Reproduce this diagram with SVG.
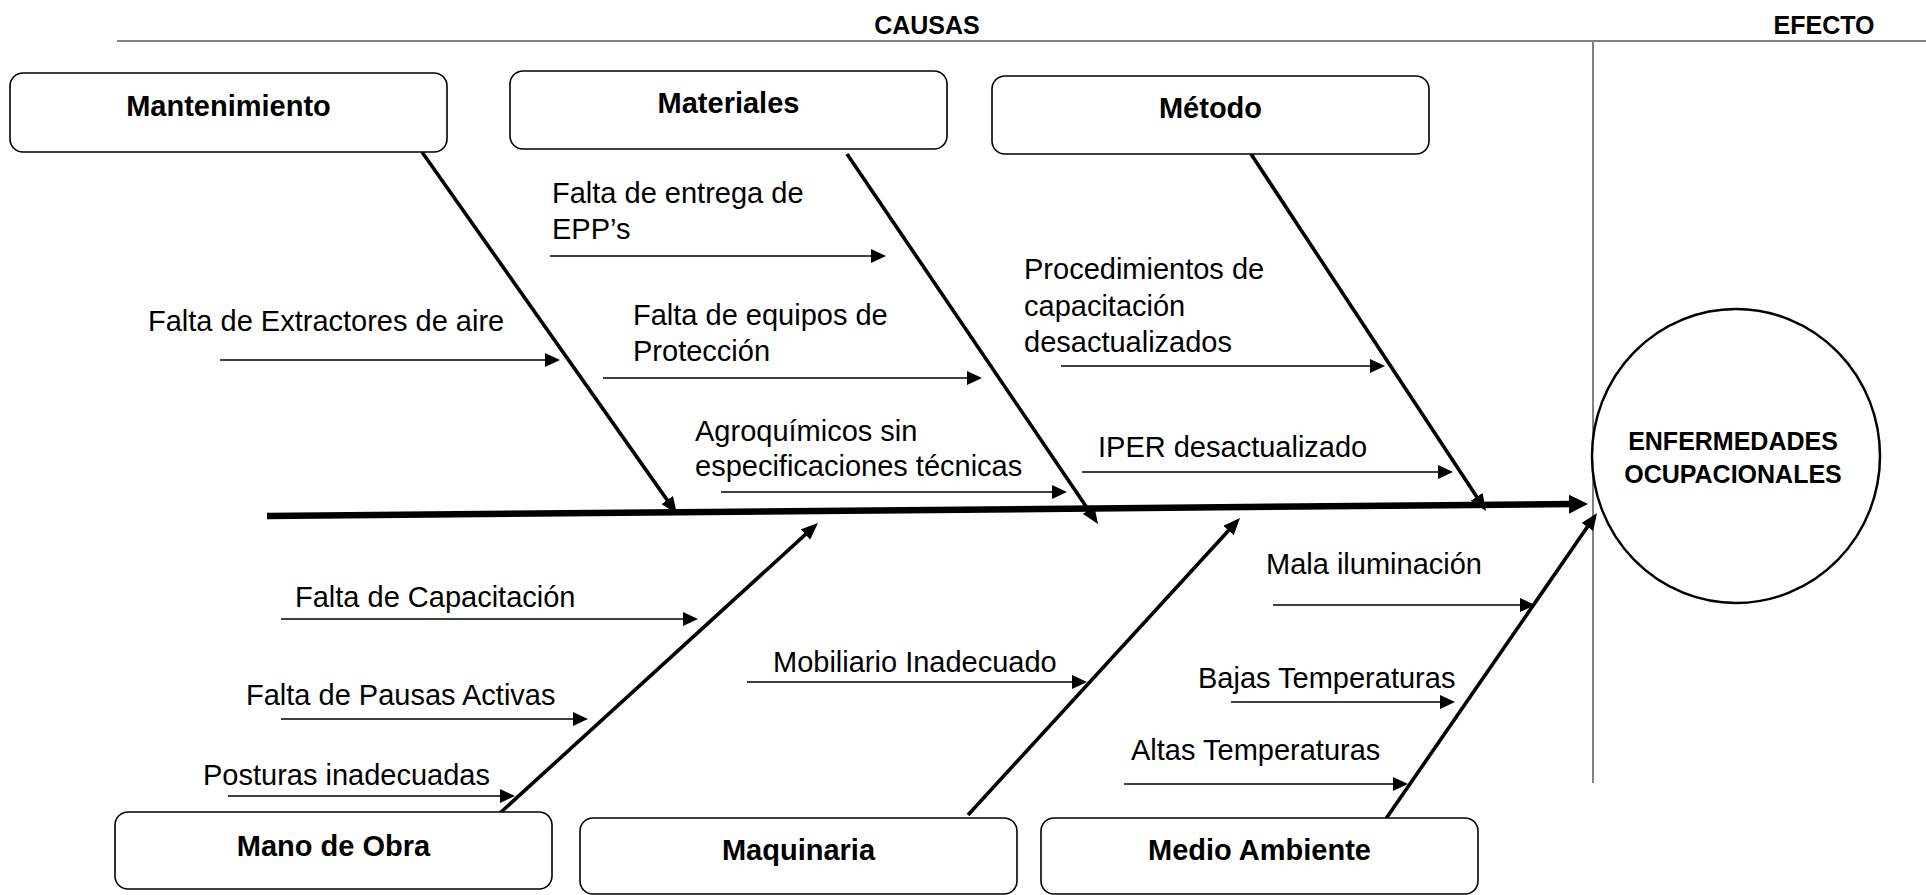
<svg xmlns="http://www.w3.org/2000/svg" width="1926" height="895" viewBox="0 0 1926 895">
<style>
.box{fill:#fff;stroke:#000;stroke-width:1.6}
.lbl{font-family:"Liberation Sans",Arial,sans-serif;font-weight:bold;font-size:29px;fill:#000;text-anchor:middle}
.hdr{font-family:"Liberation Sans",Arial,sans-serif;font-weight:bold;font-size:25px;fill:#000;text-anchor:middle}
.cause{font-family:"Liberation Sans",Arial,sans-serif;font-size:29px;fill:#000}
.guide{stroke:#808080;stroke-width:2;fill:none}
.thin{stroke:#000;stroke-width:1.5;fill:none;marker-end:url(#aThin)}
.bone{stroke:#000;stroke-width:3.6;fill:none;marker-end:url(#aBone)}
.spine{stroke:#000;stroke-width:6.5;fill:none;marker-end:url(#aSpine)}
.eff{font-family:"Liberation Sans",Arial,sans-serif;font-weight:bold;font-size:25px;fill:#000;text-anchor:middle}
</style>
<defs>
<marker id="aThin" markerUnits="userSpaceOnUse" markerWidth="15" markerHeight="14" refX="12" refY="7" orient="auto"><path d="M0,0 L15,7 L0,14 z" fill="#000"/></marker>
<marker id="aBone" markerUnits="userSpaceOnUse" markerWidth="17" markerHeight="14" refX="12" refY="7" orient="auto"><path d="M0,0 L17,7 L0,14 z" fill="#000"/></marker>
<marker id="aSpine" markerUnits="userSpaceOnUse" markerWidth="19" markerHeight="19" refX="3" refY="9.5" orient="auto"><path d="M0,0 L19,9.5 L0,19 z" fill="#000"/></marker>
</defs>
<rect width="1926" height="895" fill="#fff"/>
<g id="header">
<line class="guide" x1="117" y1="41" x2="1926" y2="41"/>
<line class="guide" x1="1593" y1="41" x2="1593" y2="783"/>
<text class="hdr" x="927" y="34">CAUSAS</text>
<text class="hdr" x="1824" y="34">EFECTO</text>
</g>
<g id="connectors">
<line class="spine" x1="267" y1="516" x2="1572" y2="504.1"/>
<line class="bone" x1="422" y1="152" x2="674.1" y2="509.9"/>
<line class="bone" x1="847" y1="154" x2="1095.2" y2="519.9"/>
<line class="bone" x1="1251" y1="154" x2="1483.3" y2="506.8"/>
<line class="bone" x1="500" y1="813" x2="814.3" y2="526.4"/>
<line class="bone" x1="968" y1="815" x2="1236.6" y2="521.7"/>
<line class="bone" x1="1383" y1="823" x2="1594.2" y2="517.1"/>
<line class="thin" x1="550" y1="256" x2="883" y2="256"/>
<line class="thin" x1="220" y1="360" x2="557" y2="360"/>
<line class="thin" x1="603" y1="378" x2="979" y2="378"/>
<line class="thin" x1="721" y1="492" x2="1064" y2="492"/>
<line class="thin" x1="1061" y1="366" x2="1382" y2="366"/>
<line class="thin" x1="1082" y1="472" x2="1450" y2="472"/>
<line class="thin" x1="281" y1="619" x2="695" y2="619"/>
<line class="thin" x1="281" y1="719" x2="585" y2="719"/>
<line class="thin" x1="228" y1="796" x2="512" y2="796"/>
<line class="thin" x1="747" y1="682" x2="1084" y2="682"/>
<line class="thin" x1="1273" y1="605" x2="1532" y2="605"/>
<line class="thin" x1="1231" y1="702" x2="1452" y2="702"/>
<line class="thin" x1="1124" y1="784" x2="1405" y2="784"/>
</g>
<g id="causes">
<text class="cause" x="552" y="203">Falta de entrega de</text>
<text class="cause" x="552" y="239">EPP’s</text>
<text class="cause" x="148" y="331">Falta de Extractores de aire</text>
<text class="cause" x="633" y="325">Falta de equipos de</text>
<text class="cause" x="633" y="361">Protección</text>
<text class="cause" x="695" y="441">Agroquímicos sin</text>
<text class="cause" x="695" y="476">especificaciones técnicas</text>
<text class="cause" x="1024" y="279">Procedimientos de</text>
<text class="cause" x="1024" y="316">capacitación</text>
<text class="cause" x="1024" y="352">desactualizados</text>
<text class="cause" x="1098" y="457">IPER desactualizado</text>
<text class="cause" x="295" y="607">Falta de Capacitación</text>
<text class="cause" x="246" y="705">Falta de Pausas Activas</text>
<text class="cause" x="203" y="785">Posturas inadecuadas</text>
<text class="cause" x="773" y="672">Mobiliario Inadecuado</text>
<text class="cause" x="1266" y="574">Mala iluminación</text>
<text class="cause" x="1198" y="688">Bajas Temperaturas</text>
<text class="cause" x="1131" y="760">Altas Temperaturas</text>
</g>
<g id="mantenimiento"><rect class="box" x="10" y="73" width="437" height="79" rx="13"/><text class="lbl" x="228.5" y="115.5">Mantenimiento</text></g>
<g id="materiales"><rect class="box" x="510" y="71" width="437" height="78" rx="13"/><text class="lbl" x="728.5" y="113">Materiales</text></g>
<g id="metodo"><rect class="box" x="992" y="76" width="437" height="78" rx="13"/><text class="lbl" x="1210.5" y="118">Método</text></g>
<g id="mano-de-obra"><rect class="box" x="115" y="812" width="437" height="77" rx="13"/><text class="lbl" x="333.5" y="856">Mano de Obra</text></g>
<g id="maquinaria"><rect class="box" x="580" y="818" width="437" height="76" rx="13"/><text class="lbl" x="798.5" y="860">Maquinaria</text></g>
<g id="medio-ambiente"><rect class="box" x="1041" y="818" width="437" height="76" rx="13"/><text class="lbl" x="1259.5" y="860">Medio Ambiente</text></g>
<g id="efecto"><ellipse cx="1736" cy="456" rx="144" ry="147" fill="#fff" stroke="#000" stroke-width="2.5"/><text class="eff" x="1733" y="450">ENFERMEDADES</text><text class="eff" x="1733" y="483">OCUPACIONALES</text></g>
</svg>
